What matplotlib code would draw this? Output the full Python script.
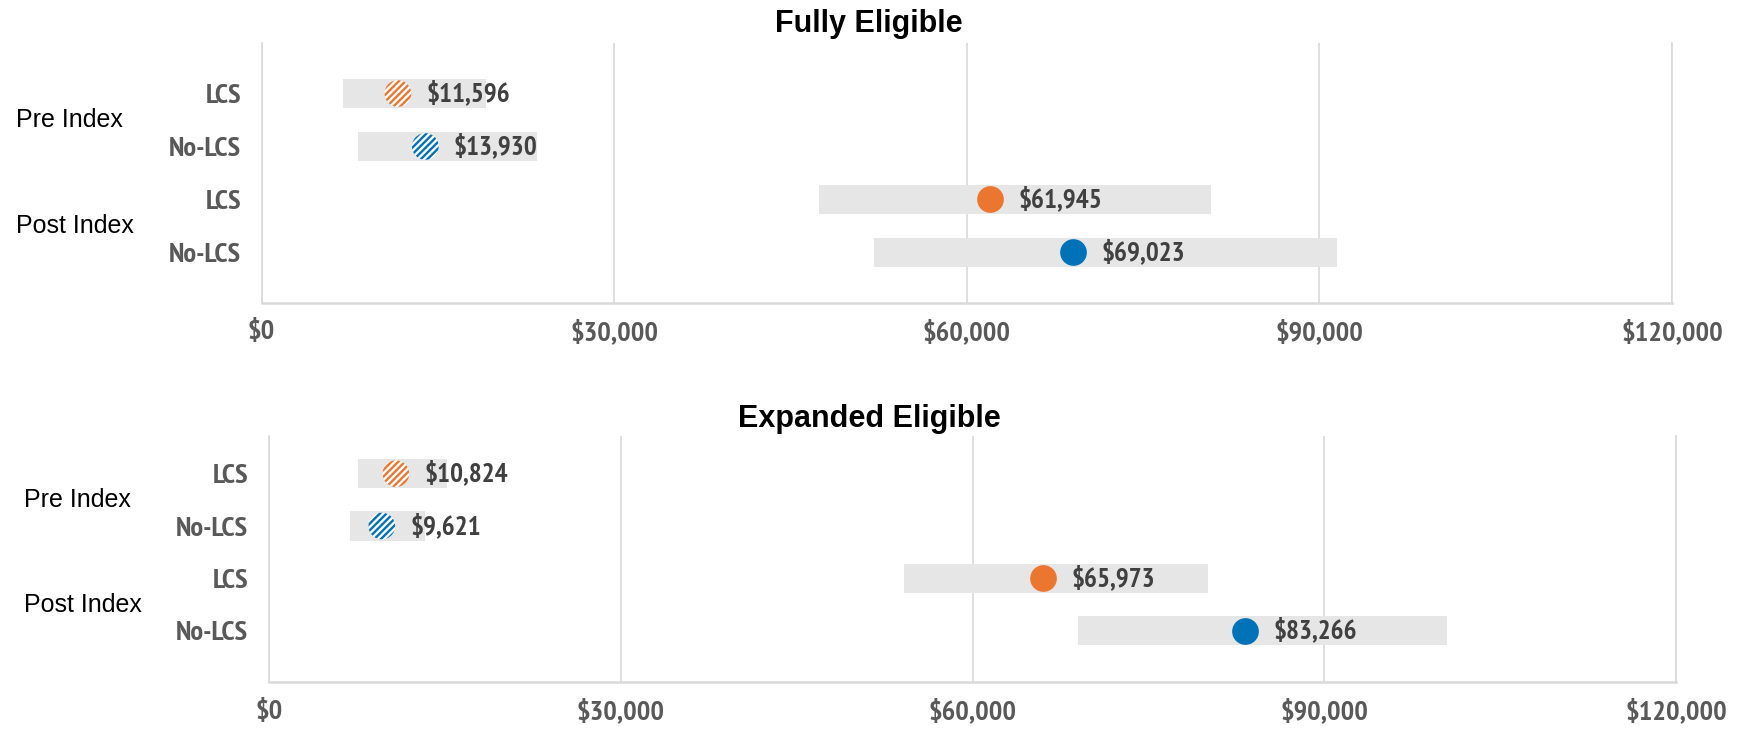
import matplotlib
matplotlib.use("Agg")
import matplotlib.pyplot as plt
import matplotlib.transforms as mtransforms
from matplotlib import font_manager as fm
import numpy as np

plt.rcParams['hatch.linewidth'] = 1.7

# ---- data ----
row_labels = ['LCS', 'No-LCS', 'LCS', 'No-LCS']
group_labels = ['Pre Index', 'Post Index']
x_ticks = [0, 30000, 60000, 90000, 120000]
x_tick_labels = ['$0', '$30,000', '$60,000', '$90,000', '$120,000']

fully_mean = [11596, 13930, 61945, 69023]
fully_low = [6900, 8200, 47400, 52100]
fully_high = [19100, 23400, 80800, 91500]

expanded_mean = [10824, 9621, 65973, 83266]
expanded_low = [7600, 6900, 54200, 69000]
expanded_high = [15200, 13300, 80100, 100500]

titles = ['Fully Eligible', 'Expanded Eligible']

# ---- fonts ----
def _w(v):
    if isinstance(v, int):
        return v
    return {'bold': 700, 'semibold': 600, 'demibold': 600, 'heavy': 800,
            'black': 900, 'extra bold': 800}.get(str(v).lower(), 400)

bold_names = {f.name for f in fm.fontManager.ttflist if 600 <= _w(f.weight) <= 700
              and f.style == 'normal'}
narrow = 'Liberation Sans'
for cand in ['Liberation Sans Narrow', 'Arial Narrow', 'Archivo Narrow',
             'PT Sans Narrow', 'Roboto Condensed', 'Fira Sans Condensed',
             'IBM Plex Sans Condensed', 'Open Sans Condensed',
             'Encode Sans Condensed', 'Asap Condensed']:
    if cand in bold_names:
        narrow = cand
        break
NARROW = [narrow, 'Liberation Sans', 'DejaVu Sans']
SANS = ['Liberation Sans', 'DejaVu Sans']

# ---- styling ----
ORANGE = '#EB7630'
BLUE = '#0072B8'
BAR = '#E6E6E6'
GRID = '#D9D9D9'
TICK = '#595959'
VAL = '#404040'
point_colors = [ORANGE, BLUE, ORANGE, BLUE]
hatched = [True, True, False, False]

W, H = 1745, 734
fig = plt.figure(figsize=(W / 100, H / 100), dpi=100)

panels = [
    dict(rect=(261.6, 42.7, 1672, 302.7), ylim=(3.95, -0.96), title_base=32.3,
         glabel_x=15.6, mean=fully_mean, low=fully_low, high=fully_high),
    dict(rect=(269, 436, 1676, 682), ylim=(3.98, -0.72), title_base=426.7,
         glabel_x=24.5, mean=expanded_mean, low=expanded_low, high=expanded_high),
]

for p, title in zip(panels, titles):
    x0, y0, x1, y1 = p['rect']
    ax = fig.add_axes([x0 / W, 1 - y1 / H, (x1 - x0) / W, (y1 - y0) / H])
    ypos = np.arange(len(row_labels))
    low = np.array(p['low'])
    high = np.array(p['high'])
    ax.barh(ypos, high - low, left=low, height=0.56, color=BAR, zorder=2)
    for i, (m, c, h) in enumerate(zip(p['mean'], point_colors, hatched)):
        if h:
            ax.scatter([m], [i], s=370, facecolors='white', edgecolors=c,
                       hatch='/////', linewidths=0, zorder=3)
        else:
            ax.scatter([m], [i], s=370, color=c, linewidths=0, zorder=3)
        ax.annotate(f'${m:,}', (m, i), xytext=(20.5, 0), textcoords='offset points',
                    va='center', ha='left', fontsize=19.5, color=VAL,
                    fontweight='bold', family=NARROW, zorder=4)
    ax.set_xlim(0, 120000)
    ax.set_ylim(*p['ylim'])
    ax.set_xticks(x_ticks)
    ax.set_xticklabels(x_tick_labels, fontsize=20.5, color=TICK, fontweight='bold',
                       family=NARROW)
    ax.set_yticks(ypos)
    ax.set_yticklabels(row_labels, fontsize=20.5, color=TICK, fontweight='bold',
                       family=NARROW)
    ax.tick_params(axis='both', length=0)
    ax.tick_params(axis='x', pad=12)
    ax.tick_params(axis='y', pad=15)
    ax.grid(axis='x', color=GRID, linewidth=1.2, zorder=0)
    ax.set_axisbelow(True)
    ax.spines['top'].set_visible(False)
    for s in ['left', 'right']:
        ax.spines[s].set_color(GRID)
        ax.spines[s].set_linewidth(1.2)
    ax.spines['bottom'].set_color(GRID)
    ax.spines['bottom'].set_linewidth(1.8)

    trans = mtransforms.blended_transform_factory(fig.transFigure, ax.transData)
    for gi, g in enumerate(group_labels):
        ax.text(p['glabel_x'] / W, 0.5 + 2 * gi, g, transform=trans, ha='left',
                va='center', fontsize=18, color='black', family=SANS)

    fig.text(0.498, 1 - p['title_base'] / H, title, ha='center', va='baseline',
             fontsize=22, fontweight='bold', color='black', family=SANS)

fig.savefig('out.png', dpi=100)
